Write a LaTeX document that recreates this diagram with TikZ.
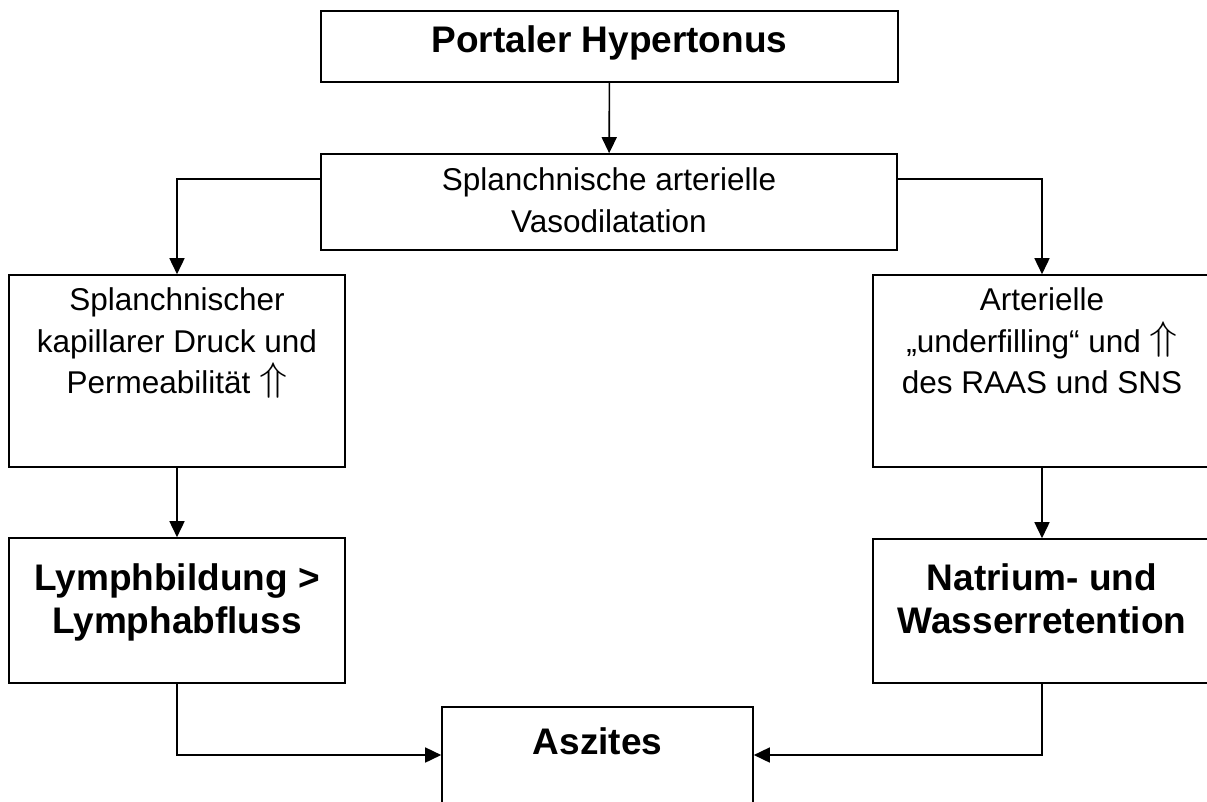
\documentclass[tikz,border=0pt]{standalone}
\usepackage{fontspec}
\setmainfont{Liberation Sans}
\usepackage{graphicx}
\usetikzlibrary{
  arrows.meta, % For arrow tips
  positioning % For the texts below the box tops
}

% tall narrow double arrow (up)
\newcommand{\upup}{\smash{\raisebox{3pt}{\fontsize{10pt}{12pt}\selectfont\scalebox{4.6}[4.0]{$\Uparrow$}}}}

\begin{document}
\begin{tikzpicture}[
    x=1pt, y=-1pt, % pixel units, y runs downwards
    line width=1.6pt, % Default line thickness
    >={Triangle[length=16pt, width=15pt]}, % Default arrow tip
    box/.style={draw, inner sep=0pt}, % Style for the frames
    txt/.style={inner sep=0pt, align=center, font=\fontsize{31.5pt}{41.5pt}\selectfont},
    boldtxt/.style={txt, font=\fontsize{37pt}{43pt}\selectfont\bfseries},
    conn/.style={->}, % Style for the connectors
  ]

    \useasboundingbox (0,0) rectangle (1207,801);
    \clip (0,0) rectangle (1207,801);

    % Frames
    \node[box, minimum width=577pt, minimum height=71pt] (portal) at (609.5,46.5) {};
    \node[box, minimum width=576pt, minimum height=96pt] (vaso) at (609,202) {};
    \node[box, minimum width=336pt, minimum height=192pt] (druck) at (177,371) {};
    \node[box, minimum width=338pt, minimum height=192pt] (arter) at (1042,371) {};
    \node[box, minimum width=336pt, minimum height=145pt] (lymph) at (177,610.5) {};
    \node[box, minimum width=338pt, minimum height=144pt] (natr) at (1042,611) {};
    \node[box, minimum width=311pt, minimum height=96pt] (asz) at (597.5,755) {};

    % Texts
    \node[boldtxt, below=15pt of portal.north] (portalT) {Portaler Hypertonus};
    \node[txt, below=14pt of vaso.north] (vasoT) {Splanchnische arterielle\\Vasodilatation};
    \node[txt, below=13pt of druck.north] (druckT)
      {Splanchnischer\\kapillarer Druck und\\Permeabilität \upup};
    \node[txt, below=13pt of arter.north] (arterT)
      {Arterielle\\„underfilling“ und \upup\\des RAAS und SNS};
    \node[boldtxt, below=26pt of lymph.north] (lymphT) {Lymphbildung >\\Lymphabfluss};
    \node[boldtxt, below=25pt of natr.north] (natrT) {Natrium- und\\Wasserretention};
    \node[boldtxt, below=21pt of asz.north] (aszT) {Aszites};

    % Connectors
    \draw[conn] (portal) -- (vaso);
    \draw[conn] ([yshift=23pt]vaso.west) -| (druck);
    \draw[conn] ([yshift=23pt]vaso.east) -| (arter);
    \draw[conn] (druck) -- (lymph);
    \draw[conn] (arter) -- (natr);
    \draw[conn] (lymph) |- (asz);
    \draw[conn] (natr) |- (asz);

  \end{tikzpicture}
\end{document}
